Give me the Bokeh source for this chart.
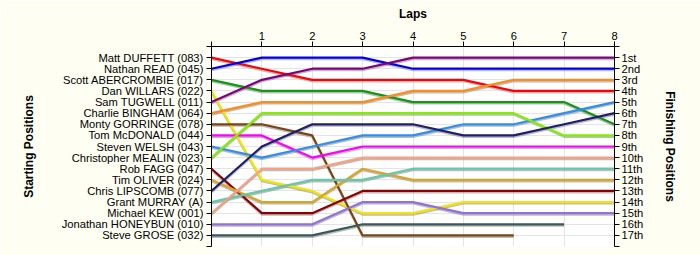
from bokeh.plotting import figure
from bokeh.models import (Range1d, LinearAxis, FixedTicker, ColumnDataSource)
from bokeh.embed import file_html
from bokeh.resources import INLINE

laps = [0, 1, 2, 3, 4, 5, 6, 7, 8]

drivers = [
    "Matt DUFFETT (083)", "Nathan READ (045)", "Scott ABERCROMBIE (017)",
    "Dan WILLARS (022)", "Sam TUGWELL (011)", "Charlie BINGHAM (064)",
    "Monty GORRINGE (078)", "Tom McDONALD (044)", "Steven WELSH (043)",
    "Christopher MEALIN (023)", "Rob FAGG (047)", "Tim OLIVER (024)",
    "Chris LIPSCOMB (077)", "Grant MURRAY (A)", "Michael KEW (001)",
    "Jonathan HONEYBUN (010)", "Steve GROSE (032)",
]

finish_labels = ["1st", "2nd", "3rd", "4th", "5th", "6th", "7th", "8th", "9th",
                 "10th", "11th", "12th", "13th", "14th", "15th", "16th", "17th"]

# positions per lap (lap 0 .. last completed lap)
pos_duffett = [1, 2, 3, 3, 3, 3, 4, 4, 4]
pos_read = [2, 1, 1, 1, 2, 2, 2, 2, 2]
pos_abercrombie = [3, 4, 4, 4, 5, 5, 5, 5, 7]
pos_willars = [4, 12, 13, 15, 15, 14, 14, 14, 14]
pos_tugwell = [5, 3, 2, 2, 1, 1, 1, 1, 1]
pos_bingham = [6, 5, 5, 5, 4, 4, 3, 3, 3]
pos_gorringe = [7, 7, 8, 17, 17, 17, 17]
pos_mcdonald = [8, 8, 10, 9, 9, 9, 9, 9, 9]
pos_welsh = [9, 10, 9, 8, 8, 7, 7, 6, 5]
pos_mealin = [10, 6, 6, 6, 6, 6, 6, 8, 8]
pos_fagg = [11, 15, 15, 13, 13, 13, 13, 13, 13]
pos_oliver = [12, 14, 14, 11, 12, 12, 12, 12, 12]
pos_lipscomb = [13, 9, 7, 7, 7, 8, 8, 7, 6]
pos_murray = [14, 13, 12, 12, 11, 11, 11, 11, 11]
pos_kew = [15, 11, 11, 10, 10, 10, 10, 10, 10]
pos_honeybun = [16, 16, 16, 14, 14, 15, 15, 15, 15]
pos_grose = [17, 17, 17, 16, 16, 16, 16, 16]

colors = ["#FF0000", "#0000EE", "#119911", "#F2E600", "#800080", "#FF8C1A",
          "#7A4512", "#FF00FF", "#2E8FEE", "#80F000", "#8B0000", "#DAA520",
          "#1E1E6E", "#66C8A8", "#F8A080", "#9370DB", "#3A5858"]

all_pos = [pos_duffett, pos_read, pos_abercrombie, pos_willars, pos_tugwell,
           pos_bingham, pos_gorringe, pos_mcdonald, pos_welsh, pos_mealin,
           pos_fagg, pos_oliver, pos_lipscomb, pos_murray, pos_kew,
           pos_honeybun, pos_grose]

FONT = "Liberation Sans"
BG = "#FEFEF3"

p = figure(width=700, height=255, output_backend="svg", toolbar_location=None,
           x_range=Range1d(0, 8), y_range=Range1d(18, 0),
           x_axis_location="above", background_fill_color="white",
           border_fill_color=BG, outline_line_color=None)
p.min_border_left = 211
p.min_border_right = 86
p.min_border_top = 46
p.min_border_bottom = 9

# shadow range, shifted slightly downward
p.extra_y_ranges = {"shadow": Range1d(18 - 0.13, 0 - 0.13)}

n = len(drivers)

# top axis (laps)
xa = p.xaxis[0]
xa.ticker = FixedTicker(ticks=laps)
xa.major_label_overrides = {0: ""}
xa.axis_label = "Laps"

# left axis (starting positions)
ya = p.yaxis[0]
ya.ticker = FixedTicker(ticks=list(range(0, n + 2)))
ya.major_label_overrides = {i + 1: d for i, d in enumerate(drivers)}
ya.major_label_overrides.update({0: "", n + 1: ""})
ya.axis_label = "Starting Positions"

# right axis (finishing positions)
ra = LinearAxis(y_range_name="default",
                ticker=FixedTicker(ticks=list(range(0, n + 2))),
                axis_label="Finishing Positions")
ra.major_label_overrides = {i + 1: f for i, f in enumerate(finish_labels)}
ra.major_label_overrides.update({0: "", n + 1: ""})
p.add_layout(ra, "right")

for ax in [xa, ya, ra]:
    ax.axis_line_color = "black"
    ax.axis_line_width = 1
    ax.major_tick_line_color = "black"
    ax.major_tick_out = 5
    ax.major_tick_in = 0
    ax.minor_tick_line_color = None
    ax.major_label_text_font = FONT
    ax.major_label_text_font_size = "11.2px"
    ax.major_label_text_color = "#000000"
    ax.axis_label_text_font = FONT
    ax.axis_label_text_font_size = "12px"
    ax.axis_label_text_font_style = "bold"
    ax.axis_label_text_color = "black"

xa.major_label_standoff = 2
xa.axis_label_standoff = 8
ya.major_label_standoff = 3
ya.axis_label_standoff = 23
ra.major_label_standoff = 2
ra.axis_label_standoff = 17

p.xgrid.grid_line_color = "#E4E4E4"
p.ygrid.grid_line_color = "#E4E4E4"
p.xgrid.ticker = FixedTicker(ticks=laps)
p.ygrid.ticker = FixedTicker(ticks=list(range(1, n + 1)))

for pos in all_pos:
    src = ColumnDataSource(dict(x=laps[:len(pos)], y=pos))
    p.line("x", "y", source=src, y_range_name="shadow",
           line_color="#909090", line_alpha=0.6, line_width=2.2)

for pos, c in zip(all_pos, colors):
    src = ColumnDataSource(dict(x=laps[:len(pos)], y=pos))
    p.line("x", "y", source=src, line_color=c, line_width=2.2)

open("out.html", "w").write(file_html(p, INLINE))
